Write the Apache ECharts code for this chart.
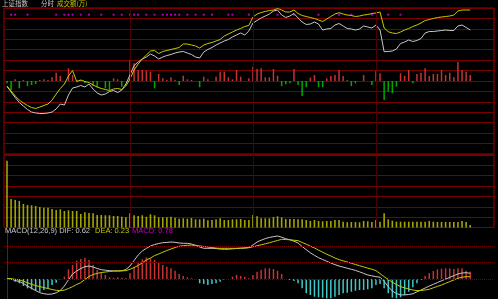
<!DOCTYPE html>
<html><head><meta charset="utf-8">
<script src="https://cdn.jsdelivr.net/npm/echarts@6/dist/echarts.min.js"></script>
<style>html,body{margin:0;padding:0;background:#000;}#c{width:498px;height:299px;}</style>
</head><body><div id="c"></div>
<script>
// price panel: offsets from previous close (panel units)
const priceLine = [-5.5,-11,-16.5,-21.5,-25,-28.5,-31,-32,-32.5,-32.5,
 -32,-31,-28,-23,-24,-14,-7,-6,-4.5,-6,
 -3,-8,-12,-14,-13,-10.5,-9.5,-11.5,-9,-3,
 6,15.5,19,22,24,27,25,22,24,25.5,
 26.5,28,29,29.5,28,26.5,24,23,29,31.5,
 33.5,36,38,40,41.5,44,46,48,46,50,
 58,60.5,63,65,67,70,71,66,63.5,65,
 67.5,63,59,56.5,57,59,57,51,52,52.5,
 56,57.5,55,52.5,52,51,52,55,54,53,
 56,51,29.3,29.5,30,32,37.5,39,41,39.5,
 40.5,42.5,48,49.5,49.5,50,50.5,51,50.5,50.5,
 55,56,53.5,51];
const avgLine = [-5,-10,-15,-19,-22,-24.5,-26.5,-27.5,-26,-24.5,
 -23,-19,-13,-7.5,-3,5,10.5,-0.5,1,-0.5,
 -1.5,-4,-6,-7.5,-8.5,-9.5,-8,-7.5,-8.5,-5,
 2,11,17,22,26,30,30.5,27.5,29.5,30.5,
 31.5,32.5,33.5,37,37,36,35,33,36,37.5,
 38.5,40,41.5,45,47,49,51,52.5,54.5,55.5,
 64,67,68.5,69.5,70.5,71,72.5,71,69,69,
 71,67.5,65.5,64.5,63.5,62.5,61,59.5,62,64.5,
 67,68.3,67,66,65.5,64.5,65,66,66.5,67.5,
 68,69,53,49.3,48,47.5,49,51,52.5,54.5,
 56,58,60.5,61.5,62.5,63.5,64,64.5,65,66,
 70,71,71,71];
const strength = [-2.3,-9,1.7,-7.3,1,-5,-4,-3,1,1.7,
 1,3.7,8.3,5,0,12.7,6,1,1,-2.3,
 0,-5,-6.3,0,-7.3,-9,2.7,1.7,-5.7,0,
 21,17.7,11,11,10.3,9.3,-7.3,7,2.7,1,
 3.7,1,-4,5.3,1.7,1,0,-6.3,4.3,1.7,
 0,4.3,9.3,9.3,3.7,1.7,11,4.3,0,2.7,
 14.3,12,12.7,3.7,3.7,12,5.3,-5,-3.3,-2.3,
 12,-4,-15,-6.3,3.3,6,-6.3,-6.3,2.7,5,
 6,11,5,1,-5,-2.3,0,6,0,-4,
 10,7.7,-19,-10.7,-12.3,-5.7,7.7,5,11,-2.3,
 7,8.3,12.7,5,7,7,11,6,8.3,3.7,
 19.3,11,9.3,6];
const volume = [66.8,28.5,27.5,26.5,23.5,22.5,22.2,21.5,20.5,19.8,
 19.8,18.5,17.5,18.2,16.5,17.2,16.5,16.5,13.5,15.2,
 14.5,14.2,12.5,12.5,12.2,12.2,11.5,11.5,10.8,10.2,
 14.2,12.2,11.5,12.2,10.8,13.2,12.2,10.2,10.2,10.2,
 10.8,9.8,8.8,9.2,8.8,9.5,8.2,8.2,8.8,7.2,
 7.5,8.2,9.2,7.5,7.5,8.2,8.2,8.5,7.5,7.5,
 12.5,11.2,9.2,9.2,9.2,10.5,11.2,10.2,8.5,8.5,
 8.5,8.2,8.2,7.5,6.5,7.5,6.5,6.2,6.5,6.5,
 7.5,7.5,5.8,5.2,5.5,5.5,5.2,6.5,6.2,5.5,
 7.5,5.8,14.2,8.2,6.8,5.8,5.8,5.8,5.8,5.8,
 5.8,5.8,5.8,6.5,5.8,5.5,5.5,5.5,5.5,5.5,
 5.5,6.5,5.5,2.5];
const dif = [0.05,0,-0.15,-0.25,-0.45,-0.7,-0.93,-1.15,-1.37,-1.47,
 -1.53,-1.5,-1.38,-1.15,-0.7,-0.08,0.5,0.8,1.05,1.23,
 1.3,1.2,1.05,0.93,0.88,0.83,0.81,0.8,0.82,0.95,
 1.3,1.85,2.4,2.8,3.07,3.3,3.45,3.55,3.63,3.66,
 3.7,3.67,3.6,3.57,3.57,3.5,3.36,3.2,3.07,3.07,
 3.07,3.05,3.0,2.98,2.98,3.02,3.05,3.07,3.1,3.15,
 3.4,3.7,3.88,4.04,4.16,4.23,4.3,4.18,4.02,3.93,
 3.78,3.6,3.25,2.93,2.62,2.37,2.13,1.95,1.77,1.6,
 1.44,1.3,1.19,1.08,0.97,0.86,0.72,0.56,0.4,0.32,
 0.23,0.18,-0.24,-0.78,-1.2,-1.45,-1.59,-1.59,-1.55,-1.48,
 -1.28,-1.1,-0.9,-0.7,-0.53,-0.35,-0.18,-0.01,0.16,0.34,
 0.5,0.6,0.63,0.57];
const dea = [0.05,0.02,-0.03,-0.09,-0.22,-0.38,-0.53,-0.66,-0.76,-0.86,
 -0.95,-1.05,-1.13,-1.16,-1.11,-0.95,-0.77,-0.55,-0.36,-0.05,
 0.25,0.45,0.56,0.65,0.7,0.75,0.8,0.81,0.82,0.83,
 0.97,1.15,1.35,1.62,1.9,2.1,2.34,2.5,2.68,2.85,
 3.0,3.15,3.28,3.33,3.37,3.4,3.36,3.31,3.25,3.2,
 3.14,3.09,3.07,3.07,3.07,3.07,3.07,3.09,3.1,3.13,
 3.22,3.32,3.42,3.52,3.62,3.74,3.85,3.97,3.95,3.92,
 3.88,3.83,3.66,3.48,3.29,3.1,2.89,2.68,2.48,2.3,
 2.1,1.94,1.82,1.7,1.57,1.45,1.33,1.21,1.08,0.98,
 0.84,0.54,0.23,-0.04,-0.32,-0.56,-0.76,-0.89,-1.0,-1.1,
 -1.16,-1.15,-1.1,-1.03,-0.88,-0.74,-0.6,-0.43,-0.26,-0.1,
 0.07,0.18,0.23,0.23];
const macd = [0,-0.1,-0.27,-0.43,-0.7,-0.93,-1.03,-1.17,-1.27,-1.1,
 -0.93,-0.6,-0.37,-0.05,0.23,0.97,1.4,1.83,2.0,2.13,
 1.9,1.4,0.9,0.63,0.4,0.17,0.13,0.17,0.13,0.07,
 0.57,1.23,1.63,1.97,2.17,2.07,1.9,1.63,1.4,1.23,
 1.07,0.83,0.5,0.3,0.17,0.07,0,-0.43,-0.5,-0.6,
 -0.5,-0.43,-0.27,-0.1,0,0.23,0.4,0.3,0.23,0.07,
 0.4,0.73,0.9,1.07,1.07,1.0,0.83,0.5,0,-0.1,
 -0.2,-0.43,-0.93,-1.43,-1.6,-1.77,-1.83,-1.87,-1.93,-1.93,
 -1.77,-1.6,-1.43,-1.37,-1.27,-1.17,-1.1,-1.1,-1.03,-0.93,
 -0.6,-0.5,-0.93,-1.43,-1.87,-1.93,-1.83,-1.6,-1.27,-0.83,
 -0.43,-0.1,0.3,0.57,0.8,0.97,1.03,1.07,1.07,1.0,
 1.07,1.07,0.83,0.73];
const signalIdx = [1,2,5,12,14,15,16,18,20,23,26,28,30,31,32,34,36,38,39,40,41,42,44,46,48,50,54,55,59,66,70,76,81,84,89,93,96];
const signalLevel = 66.3;
const sessionMarks = [30, 60, 90];
const macdRefLevels = [0, 1.63, 3.26];
const headerTexts = ['上证指数', '分时', '成交额(万)'];
const macdTexts = ['MACD(12,26,9) DIF: 0.62', 'DEA: 0.23', 'MACD: 0.78'];

const RED = '#c83232', GREEN = '#00a800', CYAN = '#40c8c8', YEL = '#c8c800', WHITE = '#c8c8c8';
const GRIDC = '#7a0000', BORDER = '#a00000';
const pairs = a => a.map((v, i) => [i, v]);
const xCommon = {type:'value', min:-0.73, max:118.8, show:false};
const vMark = {
  silent:true, symbol:['none','none'], label:{show:false},
  lineStyle:{color:'#4a0000', type:'solid', width:1},
  data: sessionMarks.map(x => ({xAxis:x}))
};
const hdrStyle = c => ({color:c, fontSize:6.5, fontWeight:'normal', fontFamily:'Noto Sans CJK SC'});
const macdStyle = c => ({color:c, fontSize:7.5, fontWeight:'normal', fontFamily:'Liberation Sans'});

const chart = echarts.init(document.getElementById('c'), null, {renderer:'canvas'});
chart.setOption({
  backgroundColor:'#000',
  animation:false,
  title:[
    {text:headerTexts[0], left:2, top:0, padding:0, textStyle:hdrStyle(WHITE)},
    {text:headerTexts[1], left:41, top:0, padding:0, textStyle:hdrStyle(WHITE)},
    {text:headerTexts[2], left:57, top:0, padding:0, textStyle:hdrStyle(YEL)},
    {text:macdTexts[0], left:5, top:226.5, padding:0, textStyle:macdStyle(WHITE)},
    {text:macdTexts[1], left:95, top:226.5, padding:0, textStyle:macdStyle(YEL)},
    {text:macdTexts[2], left:132, top:226.5, padding:0, textStyle:macdStyle('#c800c8')}
  ],
  grid:[
    {left:4, top:8, width:490, height:146, show:true, borderColor:BORDER, borderWidth:1, backgroundColor:'transparent'},
    {left:4, top:155, width:490, height:72.5, show:true, borderColor:BORDER, borderWidth:1, backgroundColor:'transparent'},
    {left:4, top:230, width:490, height:69}
  ],
  xAxis:[
    Object.assign({gridIndex:0}, xCommon),
    Object.assign({gridIndex:1}, xCommon),
    Object.assign({gridIndex:2}, xCommon)
  ],
  yAxis:[
    {gridIndex:0, type:'value', min:-73, max:73, interval:73/7,
     axisLabel:{show:false}, axisTick:{show:false}, axisLine:{show:false},
     splitLine:{show:true, lineStyle:{color:GRIDC, width:1}}},
    {gridIndex:1, type:'value', min:0, max:72.5, interval:72.5/7,
     axisLabel:{show:false}, axisTick:{show:false}, axisLine:{show:false},
     splitLine:{show:true, lineStyle:{color:GRIDC, width:1}}},
    {gridIndex:2, type:'value', min:-2.0, max:4.9,
     axisLabel:{show:false}, axisTick:{show:false},
     axisLine:{show:true, lineStyle:{color:BORDER, width:1}},
     splitLine:{show:false}}
  ],
  series:[
    {type:'bar', xAxisIndex:0, yAxisIndex:0, barWidth:1.5, silent:true,
     data: strength.map((v, i) => ({value:[i, v], itemStyle:{color: v >= 0 ? RED : GREEN}})),
     markLine: vMark},
    {type:'scatter', xAxisIndex:0, yAxisIndex:0, symbol:'rect', symbolSize:2, silent:true,
     itemStyle:{color:'#e000e0'}, data: signalIdx.map(i => [i, signalLevel])},
    {type:'line', xAxisIndex:0, yAxisIndex:0, showSymbol:false, silent:true,
     lineStyle:{color:WHITE, width:1}, data: pairs(priceLine)},
    {type:'line', xAxisIndex:0, yAxisIndex:0, showSymbol:false, silent:true,
     lineStyle:{color:YEL, width:1}, data: pairs(avgLine)},
    {type:'bar', xAxisIndex:1, yAxisIndex:1, barWidth:1.6, silent:true,
     itemStyle:{color:'#a4a400'}, data: pairs(volume), markLine: vMark},
    {type:'bar', xAxisIndex:2, yAxisIndex:2, barWidth:1.5, silent:true,
     data: macd.map((v, i) => ({value:[i, v], itemStyle:{color: v >= 0 ? RED : CYAN}})),
     markLine:{silent:true, symbol:['none','none'], label:{show:false},
       lineStyle:{color:'#7a0000', type:'dotted', width:1},
       data: macdRefLevels.map(y => ({yAxis:y}))}},
    {type:'line', xAxisIndex:2, yAxisIndex:2, showSymbol:false, silent:true,
     lineStyle:{color:WHITE, width:1}, data: pairs(dif)},
    {type:'line', xAxisIndex:2, yAxisIndex:2, showSymbol:false, silent:true,
     lineStyle:{color:YEL, width:1}, data: pairs(dea)}
  ]
});
</script></body></html>
